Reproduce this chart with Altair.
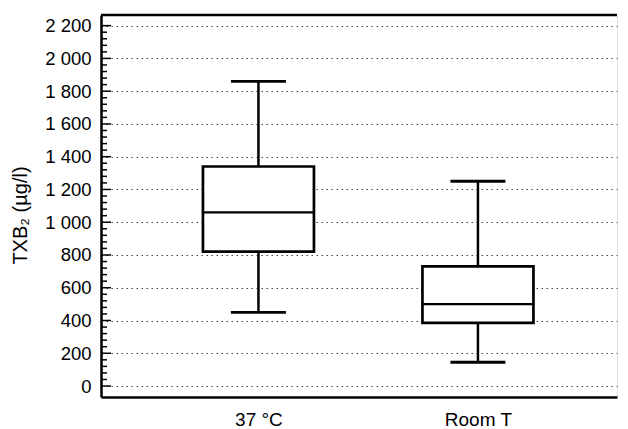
import altair as alt
import pandas as pd

# ---- data ----
categories = ["37 °C", "Room T"]
whisker_low = [450, 145]
q1 = [820, 385]
median = [1060, 500]
q3 = [1340, 730]
whisker_high = [1860, 1250]

major_ticks = [0, 200, 400, 600, 800, 1000, 1200, 1400, 1600, 1800, 2000, 2200]
minor_step = 40

df = pd.DataFrame({
    "cat": categories,
    "low": whisker_low,
    "q1": q1,
    "med": median,
    "q3": q3,
    "high": whisker_high,
})
minor_ticks = [v for v in range(major_ticks[0], major_ticks[-1] + 1, minor_step) if v not in major_ticks]
major_df = pd.DataFrame({"v": major_ticks})
minor_df = pd.DataFrame({"v": minor_ticks})

W, H = 516, 382
FONT = "Liberation Sans"

xscale = alt.Scale(type="point", domain=categories, padding=0.6754, align=0.531)
yscale = alt.Scale(domain=[-67, 2265], nice=False, zero=False)

x_axis = alt.Axis(title=None, ticks=False, labelAngle=0, labelPadding=13, grid=False)
y_axis = alt.Axis(title="TXB₂ (µg/l)", values=major_ticks, ticks=False,
                  labelExpr="replace(format(datum.value, ','), ',', ' ')",
                  labelPadding=10, titlePadding=14, titleY=200, grid=True, labelOverlap=False)


def X():
    return alt.X("cat:N", scale=xscale, sort=categories, axis=x_axis)


def Y(field):
    return alt.Y(field, scale=yscale, axis=y_axis)


base = alt.Chart(df)

whiskers = base.mark_rule(color="black", strokeWidth=2.5).encode(
    x=X(), y=Y("low:Q"), y2="high:Q",
)
boxes = base.mark_bar(size=111, fill="white", stroke="black", strokeWidth=2.7).encode(
    x=X(), y=Y("q1:Q"), y2="q3:Q",
)
med = base.mark_tick(size=111, thickness=2.3, color="black", opacity=1).encode(
    x=X(), y=Y("med:Q"),
)
cap_hi = base.mark_tick(size=55, thickness=2.8, color="black", opacity=1).encode(
    x=X(), y=Y("high:Q"),
)
cap_lo = base.mark_tick(size=55, thickness=2.8, color="black", opacity=1).encode(
    x=X(), y=Y("low:Q"),
)
major_marks = alt.Chart(major_df).mark_rule(color="black", strokeWidth=1.5).encode(
    x=alt.value(0), x2=alt.value(10), y=Y("v:Q"),
)
minor_marks = alt.Chart(minor_df).mark_rule(color="black", strokeWidth=1.5).encode(
    x=alt.value(0), x2=alt.value(6), y=Y("v:Q"),
)
top_border = alt.Chart(major_df.head(1)).mark_rule(color="black", strokeWidth=2.5).encode(
    x=alt.value(0), x2=alt.value(W), y=alt.value(0),
)

chart = alt.layer(
    whiskers, boxes, med, cap_hi, cap_lo, major_marks, minor_marks, top_border
).properties(
    width=W, height=H,
    padding={"left": 2, "top": 5, "right": 0, "bottom": 0},
).configure_view(
    stroke=None
).configure(
    background="white"
).configure_axis(
    labelFont=FONT, titleFont=FONT, labelColor="black", titleColor="black",
    titleFontWeight="normal", domainColor="black", domainWidth=2.5,
    gridColor="#444444", gridDash=[1.5, 3.5], gridWidth=1, gridOpacity=1,
).configure_axisX(
    labelFontSize=19,
).configure_axisY(
    labelFontSize=18.5, titleFontSize=20,
)

chart.save("out.html", embed_options={"renderer": "svg", "actions": False})
